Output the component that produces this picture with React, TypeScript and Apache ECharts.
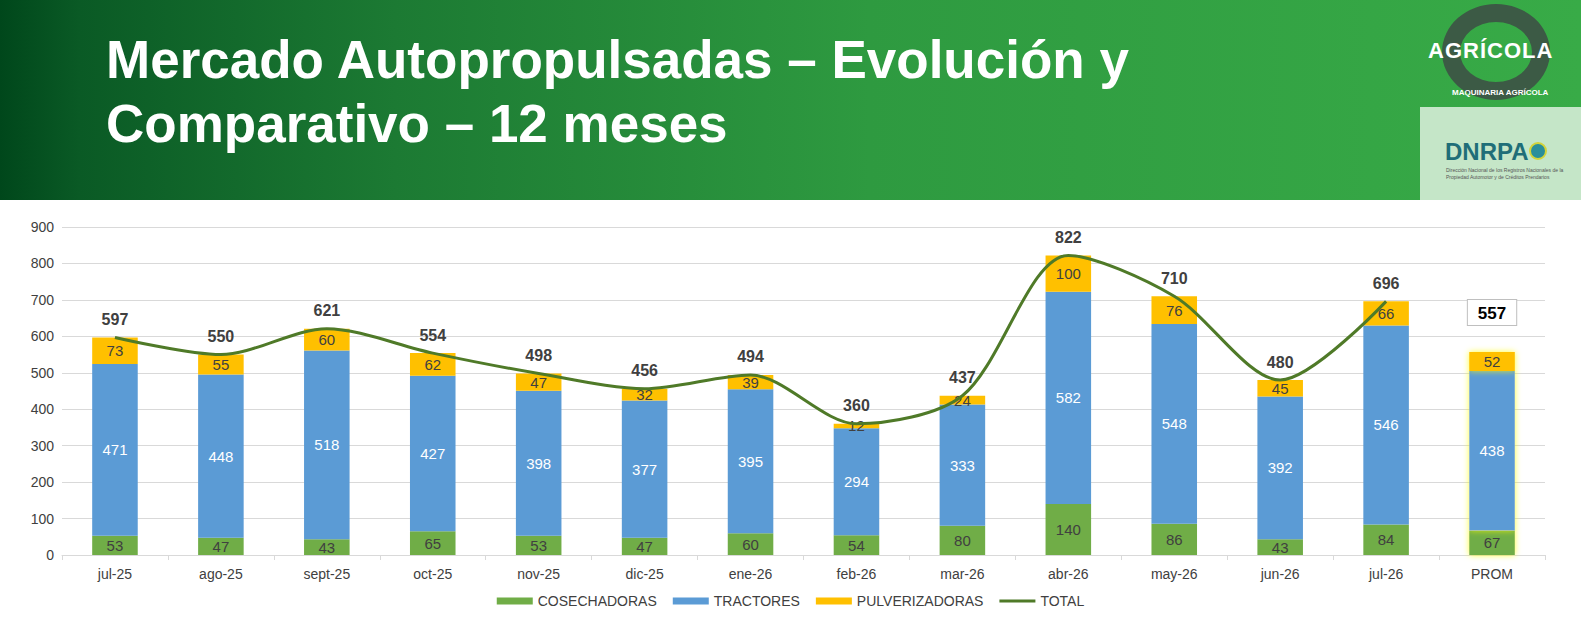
import { useEffect, useRef } from 'react'
import * as echarts from 'echarts'

const months = ['jul-25', 'ago-25', 'sept-25', 'oct-25', 'nov-25', 'dic-25', 'ene-26', 'feb-26', 'mar-26', 'abr-26', 'may-26', 'jun-26', 'jul-26', 'PROM']
const cosechadoras = [53, 47, 43, 65, 53, 47, 60, 54, 80, 140, 86, 43, 84, 67]
const tractores = [471, 448, 518, 427, 398, 377, 395, 294, 333, 582, 548, 392, 546, 438]
const pulverizadoras = [73, 55, 60, 62, 47, 32, 39, 12, 24, 100, 76, 45, 66, 52]
const totals = [597, 550, 621, 554, 498, 456, 494, 360, 437, 822, 710, 480, 696, 557]

const glow = (i: number) =>
  i === months.length - 1 ? { shadowBlur: 6, shadowColor: 'rgba(255,255,0,0.8)' } : {}

export default function App() {
  const chartRef = useRef<HTMLDivElement>(null)

  useEffect(() => {
    document.body.style.margin = '0'
    if (!chartRef.current) return
    const chart = echarts.init(chartRef.current, null, { renderer: 'svg' })
    const inside = (color: string) => ({ show: true, position: 'inside', color, fontSize: 15, fontFamily: 'Arial' })

    chart.setOption({
      animation: false,
      textStyle: { fontFamily: 'Arial' },
      grid: { left: 62, right: 36, top: 27, bottom: 78 },
      legend: {
        bottom: 20,
        itemWidth: 36,
        itemHeight: 7,
        itemGap: 16,
        textStyle: { color: '#404040', fontSize: 14 },
        data: [
          { name: 'COSECHADORAS', icon: 'rect' },
          { name: 'TRACTORES', icon: 'rect' },
          { name: 'PULVERIZADORAS', icon: 'rect' },
          { name: 'TOTAL', icon: 'path://M0,2 L36,2 L36,5 L0,5 Z' },
        ],
      },
      xAxis: {
        type: 'category',
        data: months,
        axisLine: { lineStyle: { color: '#d9d9d9' } },
        axisTick: { show: true, lineStyle: { color: '#d9d9d9' } },
        axisLabel: { color: '#404040', fontSize: 14, margin: 12 },
      },
      yAxis: {
        type: 'value',
        min: 0,
        max: 900,
        interval: 100,
        axisLabel: { color: '#404040', fontSize: 14 },
        splitLine: { lineStyle: { color: '#d9d9d9' } },
      },
      series: [
        {
          name: 'COSECHADORAS', type: 'bar', stack: 'a', barWidth: '43%',
          itemStyle: { color: '#70ad47' }, label: inside('#404040'),
          data: cosechadoras.map((v, i) => ({ value: v, itemStyle: glow(i) })),
        },
        {
          name: 'TRACTORES', type: 'bar', stack: 'a',
          itemStyle: { color: '#5b9bd5' }, label: inside('#ffffff'),
          data: tractores.map((v, i) => ({ value: v, itemStyle: glow(i) })),
        },
        {
          name: 'PULVERIZADORAS', type: 'bar', stack: 'a',
          itemStyle: { color: '#ffc000' }, label: inside('#404040'),
          data: pulverizadoras.map((v, i) => ({ value: v, itemStyle: glow(i) })),
        },
        {
          name: 'totalLabel', type: 'bar', stack: 'a', silent: true,
          data: totals.map((t, i) => ({
            value: 0,
            label: i === totals.length - 1
              ? { show: true, position: 'top', formatter: String(t), color: '#000', fontSize: 17, fontWeight: 'bold', borderColor: '#bfbfbf', borderWidth: 1, backgroundColor: '#fff', padding: [5, 10, 3, 10], offset: [0, -22] }
              : { show: true, position: 'top', formatter: String(t), color: '#404040', fontSize: 16, fontWeight: 'bold', distance: 10 },
          })),
        },
        {
          name: 'TOTAL', type: 'line', smooth: 0.3, symbol: 'none',
          lineStyle: { color: '#4f7a28', width: 3 },
          itemStyle: { color: '#4f7a28' },
          data: totals.slice(0, 13),
          z: 5,
        },
      ],
    })
    return () => chart.dispose()
  }, [])

  return (
    <div style={{ position: 'relative', width: 1581, height: 633, background: '#fff', fontFamily: 'Arial, "Liberation Sans", sans-serif', overflow: 'hidden' }}>
      <div style={{ position: 'absolute', left: 0, top: 0, width: 1581, height: 200, background: 'linear-gradient(90deg, #00471b 0%, #0a5a25 5%, #1c7a33 25%, #2e9a40 55%, #38ab47 100%)' }} />
      <div style={{ position: 'absolute', left: 106, top: 28, color: '#fff', fontSize: 53, fontWeight: 'bold', lineHeight: '64px' }}>
        Mercado Autopropulsadas – Evolución y<br />Comparativo – 12 meses
      </div>
      <div style={{ position: 'absolute', left: 1442, top: 4, width: 108, height: 96, borderRadius: '50%', border: '18px solid #3c5a45', boxSizing: 'border-box' }} />
      <div style={{ position: 'absolute', left: 1428, top: 38, color: '#fff', fontSize: 22, fontWeight: 'bold', letterSpacing: 1 }}>AGRÍCOLA</div>
      <div style={{ position: 'absolute', left: 1452, top: 88, color: '#fff', fontSize: 8, fontWeight: 'bold' }}>MAQUINARIA AGRÍCOLA</div>
      <div style={{ position: 'absolute', left: 1420, top: 107, width: 161, height: 93, background: '#c5e6c8' }} />
      <div style={{ position: 'absolute', left: 1445, top: 138, color: '#1f6e78', fontSize: 24, fontWeight: 'bold' }}>DNRPA</div>
      <div style={{ position: 'absolute', left: 1529, top: 142, width: 18, height: 18, borderRadius: '50%', background: '#2b8f9a', border: '2px solid #d4d43a', boxSizing: 'border-box' }} />
      <div style={{ position: 'absolute', left: 1446, top: 167, color: '#555', fontSize: 5, lineHeight: '7px', width: 120 }}>
        Dirección Nacional de los Registros Nacionales de la Propiedad Automotor y de Créditos Prendarios
      </div>
      <div ref={chartRef} style={{ position: 'absolute', left: 0, top: 200, width: 1581, height: 433 }} />
    </div>
  )
}
